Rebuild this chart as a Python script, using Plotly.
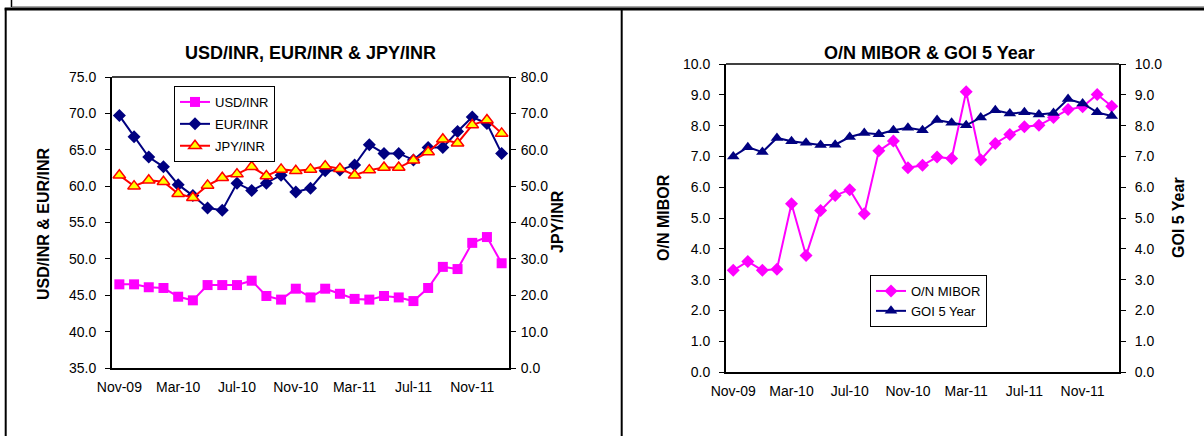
import plotly.graph_objects as go

# ---------------- data ----------------
months = ["Nov-09", "Dec-09", "Jan-10", "Feb-10", "Mar-10", "Apr-10", "May-10", "Jun-10",
          "Jul-10", "Aug-10", "Sep-10", "Oct-10", "Nov-10", "Dec-10", "Jan-11", "Feb-11",
          "Mar-11", "Apr-11", "May-11", "Jun-11", "Jul-11", "Aug-11", "Sep-11", "Oct-11",
          "Nov-11", "Dec-11", "Jan-12"]
tick_labels = ["Nov-09", "Mar-10", "Jul-10", "Nov-10", "Mar-11", "Jul-11", "Nov-11"]

usd_inr = [46.5, 46.5, 46.1, 46.0, 44.8, 44.3, 46.4, 46.4, 46.4, 47.0, 44.9, 44.4, 45.9, 44.7,
           45.9, 45.2, 44.5, 44.4, 44.9, 44.7, 44.2, 46.0, 48.9, 48.6, 52.2, 53.0, 49.4]
eur_inr = [69.7, 66.8, 64.0, 62.65, 60.2, 58.7, 57.0, 56.7, 60.4, 59.4, 60.4, 61.5, 59.2, 59.7,
           62.1, 62.2, 62.9, 65.7, 64.5, 64.5, 63.6, 65.3, 65.3, 67.5, 69.5, 68.6, 64.5]
jpy_inr = [53.0, 50.0, 51.6, 51.2, 47.9, 46.8, 50.2, 52.3, 53.3, 55.3, 52.8, 54.6, 54.2, 54.6,
           55.5, 54.8, 53.0, 54.4, 55.1, 55.1, 57.1, 59.4, 62.9, 61.8, 66.8, 68.2, 64.5]

on_mibor = [3.30, 3.59, 3.30, 3.34, 5.46, 3.78, 5.24, 5.73, 5.92, 5.14, 7.18, 7.50, 6.63, 6.71,
            6.98, 6.93, 9.10, 6.89, 7.42, 7.71, 7.96, 8.01, 8.26, 8.52, 8.61, 9.01, 8.63]
goi_5y = [7.00, 7.30, 7.14, 7.60, 7.49, 7.44, 7.37, 7.38, 7.63, 7.76, 7.72, 7.85, 7.93, 7.85,
          8.18, 8.09, 8.01, 8.26, 8.50, 8.39, 8.43, 8.36, 8.41, 8.86, 8.72, 8.43, 8.31]

# ---------------- layout helpers ----------------
W, H = 1204, 436
FONT = "Liberation Sans, Arial, sans-serif"
MAGENTA, NAVY, RED, YELLOW = "#FF00FF", "#000080", "#FF0000", "#FFFF00"


def fx(px):
    return px / W


def fy(py):
    return 1 - py / H


fig = go.Figure()

# left chart
fig.add_trace(go.Scatter(x=months, y=usd_inr, name="USD/INR", mode="lines+markers",
                         line=dict(color=MAGENTA, width=2),
                         marker=dict(symbol="square", size=10, color=MAGENTA),
                         xaxis="x", yaxis="y", legend="legend", legendgroup="a"))
fig.add_trace(go.Scatter(x=months, y=eur_inr, name="EUR/INR", mode="lines+markers",
                         line=dict(color=NAVY, width=2),
                         marker=dict(symbol="diamond", size=10, color=NAVY),
                         xaxis="x", yaxis="y", legend="legend", legendgroup="b"))
fig.add_trace(go.Scatter(x=months, y=jpy_inr, name="JPY/INR", mode="lines+markers",
                         line=dict(color=RED, width=2),
                         marker=dict(symbol="triangle-up", size=11, color=YELLOW,
                                     line=dict(color=RED, width=1.5)),
                         xaxis="x", yaxis="y2", legend="legend", legendgroup="c"))

# right chart
fig.add_trace(go.Scatter(x=months, y=on_mibor, name="O/N MIBOR", mode="lines+markers",
                         line=dict(color=MAGENTA, width=2),
                         marker=dict(symbol="diamond", size=10, color=MAGENTA),
                         xaxis="x2", yaxis="y3", legend="legend2", legendgroup="d"))
fig.add_trace(go.Scatter(x=months, y=goi_5y, name="GOI 5 Year", mode="lines+markers",
                         line=dict(color=NAVY, width=2),
                         marker=dict(symbol="triangle-up", size=11, color=NAVY),
                         xaxis="x2", yaxis="y4", legend="legend2", legendgroup="e"))

axis_common = dict(showgrid=False, zeroline=False, showline=True, linecolor="black",
                   linewidth=2, tickfont=dict(size=14, color="black", family=FONT))
xcommon = dict(axis_common, type="category", tickmode="array", tickvals=tick_labels,
               ticktext=tick_labels, ticks="", range=[-0.5, 26.5], ticklabelstandoff=5)
ycommon = dict(axis_common, ticks="outside", ticklen=5, tickwidth=1, tickcolor="black",
               tickformat=".1f", ticklabelstandoff=6)

L_X0, L_X1, L_Y0, L_Y1 = 112, 509, 77, 368
R_X0, R_X1, R_Y0, R_Y1 = 726, 1119, 64, 372

fig.update_layout(
    width=W, height=H, autosize=False,
    margin=dict(l=0, r=0, t=0, b=0, pad=0, autoexpand=False),
    paper_bgcolor="white", plot_bgcolor="white",
    font=dict(family=FONT, color="black"),
    xaxis=dict(xcommon, domain=[fx(L_X0), fx(L_X1)], anchor="y"),
    yaxis=dict(ycommon, domain=[fy(L_Y1), fy(L_Y0)], anchor="x", range=[35, 75],
               tick0=35, dtick=5),
    yaxis2=dict(ycommon, overlaying="y", side="right", anchor="x", range=[0, 80],
                tick0=0, dtick=10, ticklabelstandoff=2),
    xaxis2=dict(xcommon, domain=[fx(R_X0), fx(R_X1)], anchor="y3"),
    yaxis3=dict(ycommon, domain=[fy(R_Y1), fy(R_Y0)], anchor="x2", range=[0, 10],
                tick0=0, dtick=1),
    yaxis4=dict(ycommon, overlaying="y3", side="right", anchor="x2", range=[0, 10],
                tick0=0, dtick=1),
    legend=dict(x=fx(174), y=fy(86), xanchor="left", yanchor="top",
                bgcolor="white", bordercolor="black", borderwidth=1,
                font=dict(size=13, family=FONT), tracegroupgap=2,
                entrywidth=78, entrywidthmode="pixels"),
    legend2=dict(x=fx(870), y=fy(275), xanchor="left", yanchor="top",
                 bgcolor="white", bordercolor="black", borderwidth=1,
                 font=dict(size=13, family=FONT), tracegroupgap=0,
                 entrywidth=84, entrywidthmode="pixels"),
    showlegend=True,
)

ann = []
ann.append(dict(text="<b>USD/INR, EUR/INR & JPY/INR</b>", x=fx((L_X0 + L_X1) / 2), y=fy(53),
                xref="paper", yref="paper", showarrow=False, font=dict(size=18),
                xanchor="center", yanchor="middle"))
ann.append(dict(text="<b>O/N MIBOR & GOI 5 Year</b>", x=fx(929), y=fy(53),
                xref="paper", yref="paper", showarrow=False, font=dict(size=18),
                xanchor="center", yanchor="middle"))
for txt, xp, yp in [("USD/INR & EUR/INR", 43, 224), ("JPY/INR", 558, 222),
                    ("O/N MIBOR", 663, 218), ("GOI 5 Year", 1178, 218)]:
    ann.append(dict(text=f"<b>{txt}</b>", x=fx(xp), y=fy(yp), xref="paper", yref="paper",
                    showarrow=False, textangle=-90, font=dict(size=16),
                    xanchor="center", yanchor="middle"))
fig.update_layout(annotations=ann)

shapes = []
# plot-area top borders
shapes.append(dict(type="line", xref="paper", yref="paper", x0=fx(L_X0), x1=fx(L_X1),
                   y0=fy(L_Y0), y1=fy(L_Y0), line=dict(color="black", width=1.5)))
shapes.append(dict(type="line", xref="paper", yref="paper", x0=fx(R_X0), x1=fx(R_X1),
                   y0=fy(R_Y0), y1=fy(R_Y0), line=dict(color="black", width=1.5)))
# page frame lines
shapes.append(dict(type="line", xref="paper", yref="paper", x0=fx(11.5), x1=fx(11.5),
                   y0=fy(0), y1=fy(7), line=dict(color="black", width=1.5)))
shapes.append(dict(type="line", xref="paper", yref="paper", x0=fx(12), x1=fx(W),
                   y0=fy(6.8), y1=fy(6.8), line=dict(color="#808080", width=1)))
shapes.append(dict(type="line", xref="paper", yref="paper", x0=fx(4.7), x1=fx(W),
                   y0=fy(9), y1=fy(9), line=dict(color="black", width=3)))
shapes.append(dict(type="line", xref="paper", yref="paper", x0=fx(5.7), x1=fx(5.7),
                   y0=fy(8), y1=fy(H), line=dict(color="black", width=2)))
shapes.append(dict(type="line", xref="paper", yref="paper", x0=fx(621.7), x1=fx(621.7),
                   y0=fy(8), y1=fy(H), line=dict(color="black", width=2)))
fig.update_layout(shapes=shapes)

fig.write_html("out.html", config={"displayModeBar": False},
               post_script="document.body.style.margin='0px';")
